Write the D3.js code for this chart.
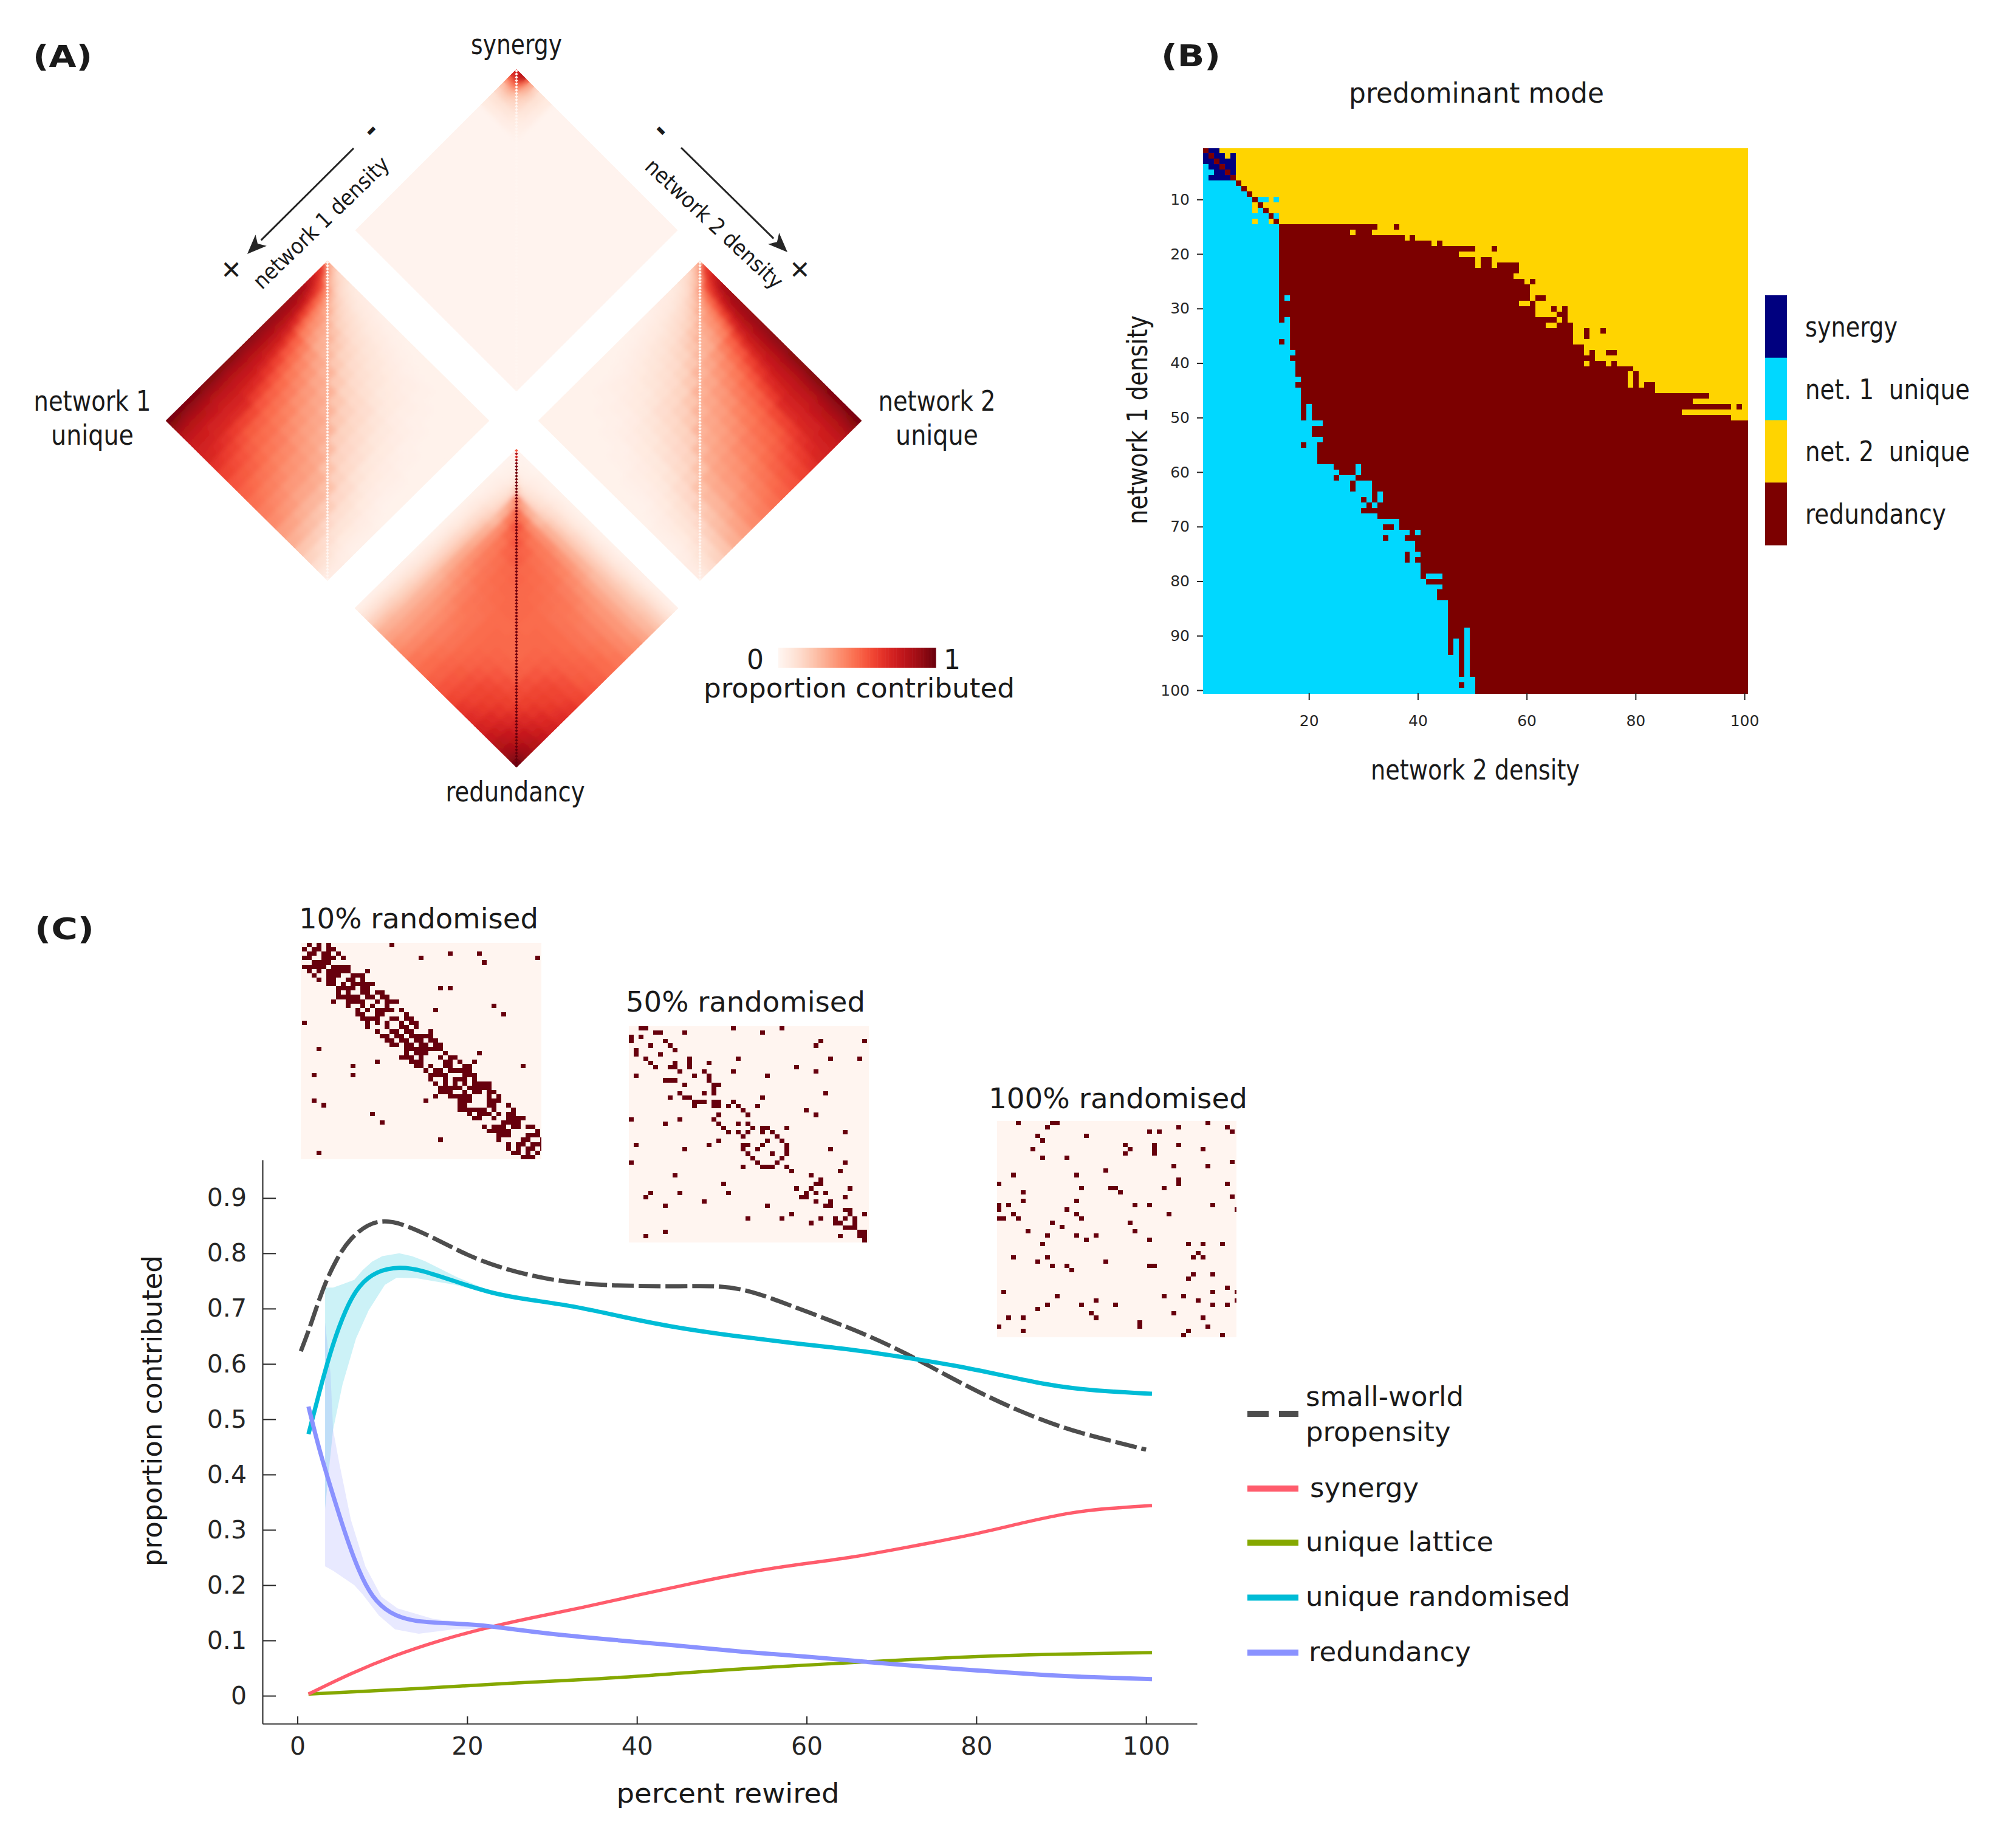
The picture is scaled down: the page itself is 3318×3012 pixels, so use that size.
<!DOCTYPE html>
<html><head><meta charset="utf-8">
<script src="https://cdn.jsdelivr.net/npm/d3@7/dist/d3.min.js"></script>
<style>html,body{margin:0;padding:0;background:#fff}svg{display:block}text{font-family:"DejaVu Sans",sans-serif;fill:#1a1a1a}</style>
</head><body><svg id="fig" width="3318" height="3012" xmlns="http://www.w3.org/2000/svg"></svg>
<script>
// ---------- Panel A data: percent contributed, read from the lobes ----------
const densityEdges = [0,2,4,6,8,11,14,18,22,27,32,38,44,50,56,62,68,74,80,85,90,94,97,100];
// rows = network 1 density bins, columns = network 2 density bins
const net1Unique = [
[30,25,20,15,12,10,7,6,5,4,3,3,2,2,2,2,2,2,2,2,2,2,2],
[62,35,28,20,16,12,9,7,6,5,4,3,3,2,2,2,2,2,2,2,2,2,2],
[65,60,30,25,20,14,11,9,7,6,5,4,3,3,2,2,2,2,2,2,2,2,2],
[68,62,50,30,24,17,13,10,8,7,6,5,4,3,3,2,2,2,2,2,2,2,2],
[75,68,60,55,35,24,17,13,11,9,7,6,5,4,3,3,3,2,2,2,2,2,2],
[80,75,66,60,45,30,22,16,13,11,9,8,6,5,4,4,3,2,2,2,2,2,2],
[85,80,72,65,50,38,29,20,16,13,11,9,8,6,5,4,3,3,2,2,2,2,2],
[87,83,77,70,56,42,35,28,22,17,14,11,9,8,6,5,4,3,2,2,2,2,2],
[88,85,80,74,62,46,38,31,27,21,16,13,11,9,7,6,4,3,3,2,2,2,2],
[89,86,82,77,68,52,42,35,29,26,20,16,13,11,9,7,5,4,3,2,2,2,2],
[90,87,83,79,73,62,51,43,36,31,27,20,16,14,12,9,7,5,3,3,2,2,2],
[91,87,84,80,75,67,55,48,41,36,31,28,21,17,14,11,8,6,4,3,2,2,2],
[92,88,84,81,76,70,61,52,45,40,35,31,27,20,16,13,10,7,5,4,3,2,2],
[92,88,84,81,77,72,65,56,49,44,38,34,31,27,18,15,12,8,6,4,3,2,2],
[93,89,85,82,78,74,68,60,52,47,42,37,33,30,25,17,14,10,7,5,3,2,2],
[93,89,85,82,78,75,70,63,55,49,45,40,36,33,30,23,17,13,9,6,4,3,2],
[94,90,86,83,79,76,72,68,59,52,48,44,40,36,33,29,23,15,11,8,5,4,3],
[94,90,87,83,79,76,72,69,61,54,50,46,42,38,35,31,26,19,12,9,6,4,3],
[95,91,87,84,80,77,73,70,63,57,53,49,45,41,36,32,27,22,15,10,6,4,3],
[95,91,88,85,81,77,73,71,66,61,56,52,47,43,39,35,29,24,18,12,8,5,4],
[96,92,88,85,81,78,74,72,68,63,58,54,49,45,41,37,32,26,20,14,10,7,5],
[96,93,89,86,82,78,75,73,70,65,60,55,51,47,43,39,33,28,21,16,11,8,5],
[97,93,90,87,82,79,75,73,71,66,61,56,52,48,44,40,34,29,22,17,12,8,5]];
const redundancy = [
[1,1,1,1,1,1,2,2,2,2,2,2,2,2,2,2,3,3,3,3,3,3,3],
[1,2,1,2,2,2,3,3,3,4,4,4,4,4,5,5,5,5,5,6,6,6,6],
[1,1,3,2,3,3,4,4,5,6,6,6,7,7,7,7,8,8,9,9,9,9,9],
[1,2,2,5,3,4,5,6,7,8,9,9,10,10,10,10,10,11,11,12,12,12,12],
[1,2,3,3,10,6,8,9,10,12,13,14,15,15,15,15,15,16,16,17,17,17,17],
[1,2,3,4,6,20,13,14,15,17,19,20,20,20,20,20,20,20,20,21,22,22,22],
[2,3,4,5,8,13,42,32,28,25,28,28,28,28,27,25,25,25,25,25,26,26,27],
[2,3,4,6,9,14,32,52,45,40,39,39,37,36,34,32,31,31,31,31,31,32,32],
[2,3,5,7,10,15,28,45,56,50,46,45,44,42,40,38,37,36,36,36,36,37,38],
[2,4,6,8,12,17,25,40,50,55,51,48,47,46,44,43,41,40,40,40,41,41,42],
[2,4,6,9,13,19,28,39,46,51,53,50,49,48,47,46,45,44,44,45,45,46,46],
[2,4,6,9,14,20,29,39,45,48,50,51,50,49,48,47,47,47,47,48,49,49,49],
[2,4,7,10,15,21,30,38,44,47,49,50,50,50,49,49,49,49,50,51,52,52,53],
[2,4,7,10,15,21,30,37,42,46,48,49,50,50,49,50,50,51,52,53,54,55,56],
[2,5,7,10,15,21,29,35,40,44,47,48,49,49,50,50,51,53,55,57,58,59,60],
[2,5,7,10,15,21,27,33,38,43,46,47,49,50,50,50,52,55,58,60,61,63,65],
[3,5,8,10,15,21,27,32,37,41,45,47,49,50,51,52,53,57,60,62,64,66,68],
[3,5,8,11,16,21,27,32,36,40,44,47,49,51,53,55,57,59,62,65,68,70,72],
[3,5,9,11,16,21,27,32,36,40,44,47,50,52,55,58,60,62,65,69,72,75,77],
[3,6,9,12,17,22,27,32,36,40,45,48,51,54,57,60,62,65,69,73,77,80,82],
[3,6,9,12,17,23,28,32,36,41,45,49,52,55,58,61,64,68,72,77,81,85,87],
[3,6,9,12,17,23,28,33,37,41,46,49,52,56,59,63,66,70,75,80,85,90,92],
[3,6,9,12,17,23,29,33,38,42,46,49,53,56,60,65,68,72,77,82,87,92,98]];
// synergy: only the tip differs from the pale background level
const synergyTip = [
[70,80,80,55,30,15,9,6],
[70,75,65,45,28,18,10,6],
[50,55,50,40,25,17,10,6],
[35,40,40,30,22,16,9,6],
[22,25,25,22,18,14,9,5],
[15,17,17,16,14,12,8,5],
[9,10,10,9,9,8,6,4],
[6,6,6,6,5,5,4,3]];
const synergyBackground = 1;
const uniqueDiagonalValue = 0;
const synergyDiagonalValue = 0;
const redundancyDiagonal = [55,85,70,88,95,96,97,97,98,97,97,98,98,97,98,98,97,98,98,98,98,97,98,98,99,98,98,98,99,98,98,99,98,98,98,99,98,98,99,98,98,98,99,98,98,98,99,98,98,98,99,98,98,98,99,98,98,98,99,98,98,98,99,98,98,96,98,98,99,98,98,99,98,98,99,98,98,99,98,99,99,98,99,99,98,99,99,99,99,99,99,99,99,100,100,100,100,100,100,100];
const lobeTitles = ["synergy","redundancy"];

// ---------- Panel B data: predominant mode per (network 1, network 2) density ----------
// last column won by network 1 unique, for rows 1..100
const net1End = [0,0,0,0,0,0,6,7,8,9,9,9,12,9,14,14,14,14,14,14,14,14,14,14,14,14,14,14,14,14,14,14,16,16,16,16,16,17,16,17,17,17,18,17,18,18,18,18,18,18,22,20,20,22,21,21,21,21,24,25,28,27,27,31,29,30,29,32,36,36,38,37,39,39,40,39,40,40,44,41,44,43,43,45,45,45,45,45,45,45,45,45,45,47,47,47,47,50,50,50];
// last column won by redundancy, for rows 1..100 (network 2 unique beyond it)
const redEnd = [1,2,3,4,5,6,7,8,9,10,11,12,13,14,32,31,37,42,50,47,50,50,58,57,59,60,60,60,58,61,61,65,63,68,68,68,70,70,72,70,79,78,78,78,83,93,90,97,88,97,100,100,100,100,100,100,100,100,100,100,100,100,100,100,100,100,100,100,100,100,100,100,100,100,100,100,100,100,100,100,100,100,100,100,100,100,100,100,100,100,100,100,100,100,100,100,100,100,100,100];
const synergyCells = [[1,2],[1,3],[2,1],[2,3],[2,4],[2,6],[3,1],[3,2],[3,4],[3,5],[3,6],[4,2],[4,3],[4,5],[4,6],[5,3],[5,4],[5,6],[6,2],[6,3],[6,4],[6,5]];
const extraNet1 = [[4,1],[5,1],[5,2],[6,1],[10,11],[10,12],[10,14],[12,11],[13,14],[14,11],[14,12],[28,16],[32,16],[48,20],[49,20],[50,20],[59,29],[60,29],[62,29],[62,30],[62,31],[63,29],[63,30],[63,31],[64,33],[65,31],[65,33],[66,32],[71,40],[75,39],[76,39],[79,42],[79,43],[79,44],[89,49],[90,49],[91,47],[91,49],[92,47],[92,49],[93,47],[93,49],[94,49],[95,49],[96,49],[97,49]];
const extraNet2 = [[2,5],[10,13],[11,10],[12,10],[14,10],[14,13],[15,33],[15,34],[15,35],[16,28],[16,32],[17,38],[18,43],[19,51],[19,52],[19,53],[21,51],[21,54],[22,51],[22,54],[25,60],[28,61],[29,59],[29,60],[30,62],[30,63],[30,64],[30,66],[31,62],[31,63],[31,64],[31,65],[32,66],[33,64],[33,65],[34,69],[34,70],[34,72],[34,73],[35,69],[35,70],[38,71],[38,73],[38,74],[40,71],[40,75],[42,79],[43,79],[44,79],[44,81],[48,98]];
const extraRed = [[15,36],[17,39],[18,44],[19,54],[21,52],[21,53],[22,52],[22,53],[22,55],[22,56],[22,57],[22,58],[25,61],[28,62],[28,63],[29,61],[30,65],[30,67],[31,66],[31,67],[32,67],[33,66],[33,67],[33,68],[34,71],[34,74],[35,71],[38,72],[38,75],[38,76],[40,72],[40,73],[40,74],[40,76],[42,80],[43,80],[44,80],[44,82],[44,83],[48,99],[32,15],[36,15],[48,19],[49,19],[50,19],[55,19],[58,22],[58,23],[61,25],[62,28],[63,28],[65,30],[65,32],[66,31],[70,34],[70,35],[72,34],[75,38],[76,38],[76,40],[79,41],[91,46],[91,48],[92,46],[92,48],[93,46],[93,48],[94,48],[95,48],[96,48],[97,48],[99,48]];
const modeNames = ["synergy","net. 1  unique","net. 2  unique","redundancy"];
const modeColors = ["#00007f","#00d8ff","#ffd400","#7c0000"];
const densityTicksX = [20,40,60,80,100];
const densityTicksY = [10,20,30,40,50,60,70,80,90,100];

// ---------- Panel C data ----------
const smallWorldX = [0.4,1.5,3,4.6,6.2,8.3,10.2,12.5,16.2,19.9,24,29.3,34.6,39.8,45,49.8,53.5,57.7,62.9,67,71.8,76.6,80.8,85,90.2,95.5,100];
const smallWorldY = [.623,.667,.738,.79,.827,.853,.86,.853,.827,.797,.773,.753,.743,.741,.74,.742,.732,.708,.678,.653,.619,.578,.545,.515,.484,.462,.445];
const randomisedX = [1.3,2.5,4.1,5.7,7.2,9.3,12,14.6,18.8,23,27.2,32.5,37.7,44,50.3,53.5,59.8,65,72.4,77.6,82.9,88.1,91.3,95.5,100.7];
const randomisedY = [.473,.545,.634,.70,.742,.768,.776,.77,.748,.727,.716,.705,.687,.667,.653,.647,.635,.627,.61,.597,.58,.563,.556,.55,.546];
const redundancyX = [1.3,2.5,4.1,5.7,7.2,8.8,10.9,13.6,17.8,22,28.3,35.6,44,52.4,60.8,67.1,73.4,80.8,88.1,94.4,100.7];
const redundancyY = [.523,.448,.367,.289,.226,.177,.148,.134,.131,.128,.114,.103,.092,.079,.07,.061,.053,.045,.037,.033,.03];
const synergyX = [1.3,6.2,11.4,16.7,22,27.2,33.5,39.8,46.1,52.4,58.7,65,71.3,79.7,86,91.3,95.5,100.7];
const synergyY = [.003,.04,.073,.1,.122,.14,.159,.181,.202,.222,.237,.249,.267,.291,.315,.332,.339,.344];
const latticeX = [1.3,14.6,25,35.6,46,56.6,67,77.6,88,100.7];
const latticeY = [.003,.013,.023,.03,.042,.053,.061,.07,.075,.078];
const randomisedBand = [[3.26,.738],[4.2,.738],[5.3,.744],[6.7,.752],[7.7,.77],[8.8,.785],[10,.795],[12,.80],[13.5,.795],[15,.786],[18.8,.757],[23,.73],[28,.714],[28,.712],[23,.725],[18.6,.743],[14,.755],[11.7,.756],[10.3,.743],[8.4,.697],[6.9,.646],[5.3,.562],[4.2,.481],[3.7,.407],[3.26,.338]];
const redundancyBand = [[3.26,.675],[3.9,.582],[4.2,.481],[4.9,.423],[6.3,.318],[8,.234],[9.9,.179],[11.8,.158],[16,.139],[20.8,.131],[24,.124],[24,.122],[18.4,.12],[14.3,.112],[11.5,.12],[9.6,.145],[7.7,.183],[6.7,.2],[4.2,.226],[3.26,.234]];
const percentTicks = [0,20,40,60,80,100];
const proportionTicks = [0,.1,.2,.3,.4,.5,.6,.7,.8,.9];

// Adjacency insets: for each of 50 rows, the columns holding an edge
const adjacency10 = [[1,3,5,18],[0,2,3,5,6],[1,2,4,5,7,30,36],[0,1,4,5,6,8,24,48],[2,3,4,5,37],[0,1,2,3,4,6,7,8,9],[1,3,5,6,7,8,9,13],[2,5,6,7,10,11,12],[3,5,6,9,10,12],[5,6,8,10,11,12,13,14],[7,8,9,10,12,13,28,30],[7,9,12,13,15,16],[7,8,9,10,11,13,14,16,17],[6,9,10,11,12,15,17,18,19],[9,12,14,17,39],[11,13,15,16,17,18,20,27],[11,12,15,16,21,41],[12,13,14,15,18,19,21,22],[0,13,15,17,20,22,23],[13,17,20,21,23],[15,18,19,21,22,26],[16,17,19,20,22,23,24,25,26],[17,18,20,21,23,24,26,27],[18,19,21,22,24,25,27,28],[3,21,22,23,24,25,26,27,28],[21,23,24,25,29,36],[20,21,22,24,28,30,31],[15,22,23,24,29,30,32,35],[10,23,24,26,29,30,33,34,45],[25,27,28,30,31,32,33,34],[2,10,26,27,28,29,33,34,35],[26,29,31,32,33,35],[27,29,31,33,35,36,37,38],[28,29,30,31,32,34,35,36,37,38],[28,29,30,33,35,36,38,39],[27,30,31,32,33,34,38,40],[2,25,32,33,34,38,39,40],[4,32,33,38,39,42],[32,33,34,35,36,37,39,43],[14,34,36,37,38,40,42,43],[35,36,39,42,43,44,45],[16,41,42,43,44],[37,39,40,41,43,44,46,47],[38,39,40,41,42,48],[40,41,42,46,47,48],[28,40,45,46,49],[42,44,45,47,48,49],[42,44,46,47,49],[3,43,44,46,48],[45,46,47]];
const adjacency50 = [[2,3,21,31],[5,6,11,27],[0,2],[0,7,39,48],[4,8,38],[1,9],[1,6],[3,12,22,41,47],[4,9,12,16],[5,8,9,12,34],[10,15,21,38],[1,13,16,28],[7,8,9,16],[11,17,18],[17],[10,15,17,40],[8,11,12,27],[13,14,15,17,18,21],[13,17,18,20,22,26],[23,36],[18,24,38],[0,10,17],[7,18,22,24],[19,25,27,28,32],[20,22,24,27,29,44],[23,30],[18,28,31],[1,16,23,24,27,32],[11,23,26,32,41],[24,29,32],[25,31],[0,26,30,44],[23,27,28,29,32],[33,43],[9,37],[39],[19,38,39],[34,37,45],[4,10,20,36,38,40],[3,35,36,44],[15,38,41],[7,28,40,41],[44,45],[33,45,48],[24,31,39,42,44,46],[37,42,43,46],[44,45,46],[7,47,48],[3,43,47,48],[48]];
const adjacency100 = [[4,11,12,43],[10,37,47],[31,33,48],[8,18],[9],[26,32,37],[7,27,32,42],[26,32],[9,14],[48],[36,43],[22],[3,16],[37],[0,37,47],[17,23,24,34],[5,25],[48],[5,16],[0,2,28,31,44],[0,14,49],[3,16,35],[0,1,4,17],[11,27],[13],[6,28],[10,16,20],[18,31],[9,39,42,46],[],[41],[3,10,40,42],[8,22],[11,14,31,32],[15],[40,44],[39],[],[47],[1,44,49],[12,34,38],[20,41,49],[10,17,24,44,47],[8],[19,36],[2,5,20,42],[29],[0,29,43],[5,39],[38,46]];
const insetTitles = ["10% randomised","50% randomised","100% randomised"];

// ---------- Drawing ----------
const svg = d3.select("#fig");
const heat = d3.scaleSequential(d3.interpolateReds).domain([0,100]);
function label(t,x,y,o={}){
  const e = svg.append("text").text(t).attr("x",x).attr("y",y).attr("dy",".36em")
    .attr("text-anchor",o.anchor||"middle").attr("font-size",o.size||44);
  if(o.weight) e.attr("font-weight",o.weight);
  if(o.len) e.attr("textLength",o.len).attr("lengthAdjust","spacingAndGlyphs");
  if(o.rot!==undefined) e.attr("transform",`rotate(${o.rot} ${x} ${y})`);
  return e;
}
// ---- Panel A ----
const bins = d3.pairs(densityEdges);
const densityPct = d3.scaleLinear().domain([0,100]).range([0,1]);
const defs = svg.append("defs");
defs.append("filter").attr("id","soft").attr("filterUnits","userSpaceOnUse")
  .attr("x",0).attr("y",0).attr("width",1800).attr("height",1400)
  .append("feGaussianBlur").attr("stdDeviation",4.5);
let lobeId = 0;
function lobe(cx,cy,hw,hh,valueAt,diagValue){
  const id = "lobe"+(lobeId++);
  const pt = (u,v)=>[cx+hw*(densityPct(v)-densityPct(u)), cy-hh+hh*(densityPct(u)+densityPct(v))];
  const poly = (a,b,c,d)=>[a,b,c,d].map(p=>p.join(",")).join(" ");
  defs.append("clipPath").attr("id",id).append("polygon").attr("points",poly(pt(0,0),pt(0,100),pt(100,100),pt(100,0)));
  const cells = [];
  bins.forEach((bu,i)=>bins.forEach((bv,j)=>cells.push({bu,bv,val:valueAt(i,j)})));
  const paint = g=>g.selectAll("polygon").data(cells).join("polygon")
    .attr("points",d=>poly(pt(d.bu[0],d.bv[0]),pt(d.bu[0],d.bv[1]),pt(d.bu[1],d.bv[1]),pt(d.bu[1],d.bv[0])))
    .attr("fill",d=>heat(d.val)).attr("stroke",d=>heat(d.val)).attr("stroke-width",0.7);
  svg.append("g").call(paint);
  svg.append("g").attr("clip-path",`url(#${id})`).append("g").attr("filter","url(#soft)").call(paint);
  svg.append("g").selectAll("polygon").data(d3.range(100)).join("polygon")
    .attr("points",i=>poly(pt(i,i),pt(i,i+1),pt(i+1,i+1),pt(i+1,i)))
    .attr("fill",i=>heat(diagValue(i)));
}
const net2At = (i,j)=>net1Unique[j][i];
lobe(850,379,265,265,(i,j)=>(synergyTip[i]&&synergyTip[i][j]!==undefined)?synergyTip[i][j]:synergyBackground,()=>synergyDiagonalValue);
lobe(539,692.5,266,263,(i,j)=>net1Unique[i][j],()=>uniqueDiagonalValue);
lobe(1152,692.5,266,263,net2At,()=>uniqueDiagonalValue);
lobe(850,1001,266,262,(i,j)=>redundancy[i][j],i=>redundancyDiagonal[i]);

label("(A)",54,92,{anchor:"start",size:50,weight:"bold",len:98});
label("(B)",1911,91,{anchor:"start",size:50,weight:"bold",len:98});
label("(C)",57,1528,{anchor:"start",size:50,weight:"bold",len:98});
label(lobeTitles[0],850,72,{size:46,len:150});
label(lobeTitles[1],848,1302,{size:46,len:229});
label("network 1",152,659,{size:46,len:193});
label("unique",152,715,{size:46,len:136});
label("network 2",1542,659,{size:46,len:193});
label("unique",1542,715,{size:46,len:136});
label("network 1 density",528,366,{size:36,rot:-44,len:295});
label("network 2 density",1176,368,{size:36,rot:43,len:295});
label("-",609,213,{size:44,weight:"bold",rot:-45});
label("+",379,442,{size:48,rot:-45});
label("-",1090,213,{size:44,weight:"bold",rot:45});
label("+",1318,442,{size:48,rot:45});
function arrow(x1,y1,x2,y2){
  const a = Math.atan2(y2-y1,x2-x1), L=32, W=13;
  const bx=x2-L*Math.cos(a), by=y2-L*Math.sin(a), nx=-Math.sin(a), ny=Math.cos(a);
  svg.append("line").attr("x1",x1).attr("y1",y1).attr("x2",bx).attr("y2",by).attr("stroke","#262626").attr("stroke-width",3);
  svg.append("polygon").attr("fill","#262626")
    .attr("points",`${x2},${y2} ${bx+W*nx},${by+W*ny} ${x2-L*.75*Math.cos(a)},${y2-L*.75*Math.sin(a)} ${bx-W*nx},${by-W*ny}`);
}
arrow(582,244,407,418);
arrow(1121,243,1296,415);
// colour bar
const barX = d3.scaleLinear().domain([0,100]).range([1281,1540]);
svg.append("g").selectAll("rect").data(d3.range(0,100)).join("rect")
  .attr("x",d=>barX(d)).attr("width",d=>barX(d+1)-barX(d)+.6).attr("y",1066).attr("height",33).attr("fill",d=>heat(d));
label("0",1243,1085,{size:44});
label("1",1567,1085,{size:44});
label("proportion contributed",1414,1132,{size:45,len:512});

// ---- Panel B ----
const rows = d3.range(1,101), cols = d3.range(1,101);
const bx = d3.scaleBand().domain(cols).range([1980,2876]);
const by = d3.scaleBand().domain(rows).range([243.5,1141]);
const modeAt = {};
rows.forEach(r=>cols.forEach(c=>{modeAt[r+"_"+c]= c<=net1End[r-1]?1:(c<=redEnd[r-1]?3:2);}));
synergyCells.forEach(([r,c])=>modeAt[r+"_"+c]=0);
extraNet1.forEach(([r,c])=>modeAt[r+"_"+c]=1);
extraNet2.forEach(([r,c])=>modeAt[r+"_"+c]=2);
extraRed.forEach(([r,c])=>modeAt[r+"_"+c]=3);
const bCells = [];
rows.forEach(r=>cols.forEach(c=>bCells.push({r,c,m:modeAt[r+"_"+c]})));
svg.append("g").attr("shape-rendering","crispEdges").selectAll("rect").data(bCells).join("rect")
  .attr("x",d=>bx(d.c)).attr("y",d=>by(d.r)).attr("width",bx.bandwidth()+.5).attr("height",by.bandwidth()+.5)
  .attr("fill",d=>modeColors[d.m]);
function styleAxis(g,size){
  g.selectAll("text").attr("font-size",size).style("fill","#262626").attr("font-family",'"DejaVu Sans",sans-serif');
  g.selectAll("line,path").attr("stroke","#262626").attr("stroke-width",2);
}
const axB1 = svg.append("g").attr("transform","translate(1980,0)")
  .call(d3.axisLeft(by).tickValues(densityTicksY).tickSize(10).tickPadding(12)).call(styleAxis,25);
axB1.select(".domain").remove();
const axB2 = svg.append("g").attr("transform","translate(0,1141)")
  .call(d3.axisBottom(bx).tickValues(densityTicksX).tickSize(11).tickPadding(25)).call(styleAxis,25);
axB2.select(".domain").remove();
label("predominant mode",2430,152,{size:47,len:420});
label("network 2 density",2428,1266,{size:47,len:344});
label("network 1 density",1871,691,{size:47,len:344,rot:-90});
const legY = d3.scaleBand().domain(modeNames).range([486,897]);
svg.append("g").selectAll("rect").data(modeNames).join("rect")
  .attr("x",2905).attr("width",36).attr("y",d=>legY(d)).attr("height",legY.bandwidth()+.5).attr("fill",(d,i)=>modeColors[i]);
const legLen = [152,271,271,232];
modeNames.forEach((n,i)=>label(n,2971,legY(n)+legY.bandwidth()/2,{anchor:"start",size:46,len:legLen[i]}).attr("xml:space","preserve"));

// ---- Panel C ----
const x = d3.scaleLinear().domain([-4.12,106]).range([432,1970]);
const y = d3.scaleLinear().domain([-.0505,.969]).range([2837,1909]);
[[randomisedBand,"#00bcd6",.2],[redundancyBand,"#8a92ff",.2]].forEach(([b,col,op])=>{
  svg.append("path").attr("d",d3.line().x(d=>x(d[0])).y(d=>y(d[1])).curve(d3.curveLinear)(b)+"Z")
    .attr("fill",col).attr("fill-opacity",op);
});
const lineGen = d3.line().x(d=>x(d[0])).y(d=>y(d[1])).curve(d3.curveBasis);
const series = [
 {xs:smallWorldX,ys:smallWorldY,c:"#4d4d4d",dash:"36 8",w:7},
 {xs:latticeX,ys:latticeY,c:"#85a800",w:5.5},
 {xs:synergyX,ys:synergyY,c:"#ff5c6c",w:5.5},
 {xs:randomisedX,ys:randomisedY,c:"#00bcd6",w:7},
 {xs:redundancyX,ys:redundancyY,c:"#8a92ff",w:7}];
series.forEach(s=>{
  svg.append("path").attr("d",lineGen(d3.zip(s.xs,s.ys))).attr("fill","none").attr("stroke",s.c)
    .attr("stroke-width",s.w).attr("stroke-dasharray",s.dash||null);
});
svg.append("g").attr("transform","translate(432,0)")
  .call(d3.axisLeft(y).tickValues(proportionTicks).tickFormat(d=>d===0?"0":d3.format(".1f")(d)).tickSize(-22).tickPadding(26).tickSizeOuter(0)).call(styleAxis,41);
svg.append("g").attr("transform","translate(0,2837)")
  .call(d3.axisBottom(x).tickValues(percentTicks).tickSize(-12).tickPadding(22).tickSizeOuter(0)).call(styleAxis,41);
label("proportion contributed",250,2322,{size:45,rot:-90,len:512});
label("percent rewired",1198,2951,{size:45,len:367});
// legend
const legendItems = [[2327,"#4d4d4d","35 17"],[2450,"#ff5c6c",null],[2539,"#85a800",null],[2629.5,"#00bcd6",null],[2720,"#8a92ff",null]];
legendItems.forEach(([ly,c,dash])=>svg.append("line").attr("x1",2053).attr("x2",2137).attr("y1",ly).attr("y2",ly).attr("stroke",c).attr("stroke-width",10).attr("stroke-dasharray",dash));
label("small-world",2149,2298,{anchor:"start",size:45});
label("propensity",2149,2356,{anchor:"start",size:45});
label("synergy",2156,2448,{anchor:"start",size:45});
label("unique lattice",2149,2537,{anchor:"start",size:45});
label("unique randomised",2149,2627,{anchor:"start",size:45});
label("redundancy",2154,2718,{anchor:"start",size:45});
// adjacency insets
const insets = [
 {m:adjacency10,x0:497,bgx:495,bgw:396,y0:1552,t:insetTitles[0],tx:689,ty:1511,len:394},
 {m:adjacency50,x0:1035,bgx:1035,bgw:395,y0:1689,t:insetTitles[1],tx:1227,ty:1648,len:394},
 {m:adjacency100,x0:1640,bgx:1641,bgw:394,y0:1845,t:insetTitles[2],tx:1840,ty:1807,len:426}];
insets.forEach((ins,k)=>{
  const cid="clip"+k;
  svg.append("clipPath").attr("id",cid).append("rect").attr("x",ins.bgx).attr("y",ins.y0).attr("width",ins.bgw).attr("height",356);
  const g = svg.append("g").attr("clip-path",`url(#${cid})`).attr("shape-rendering","crispEdges");
  g.append("rect").attr("x",ins.bgx).attr("y",ins.y0).attr("width",ins.bgw).attr("height",356).attr("fill",heat(0));
  const cx = d3.scaleBand().domain(d3.range(50)).range([ins.x0,ins.x0+400]);
  const cy = d3.scaleBand().domain(d3.range(50)).range([ins.y0,ins.y0+356]);
  const pts = ins.m.flatMap((cs,r)=>cs.map(c=>({r,c})));
  g.selectAll("rect.e").data(pts).join("rect").attr("class","e")
    .attr("x",d=>cx(d.c)).attr("y",d=>cy(d.r)).attr("width",cx.bandwidth()).attr("height",cy.bandwidth()).attr("fill",heat(100));
  label(ins.t,ins.tx,ins.ty,{size:46,len:ins.len});
});
</script></body></html>
